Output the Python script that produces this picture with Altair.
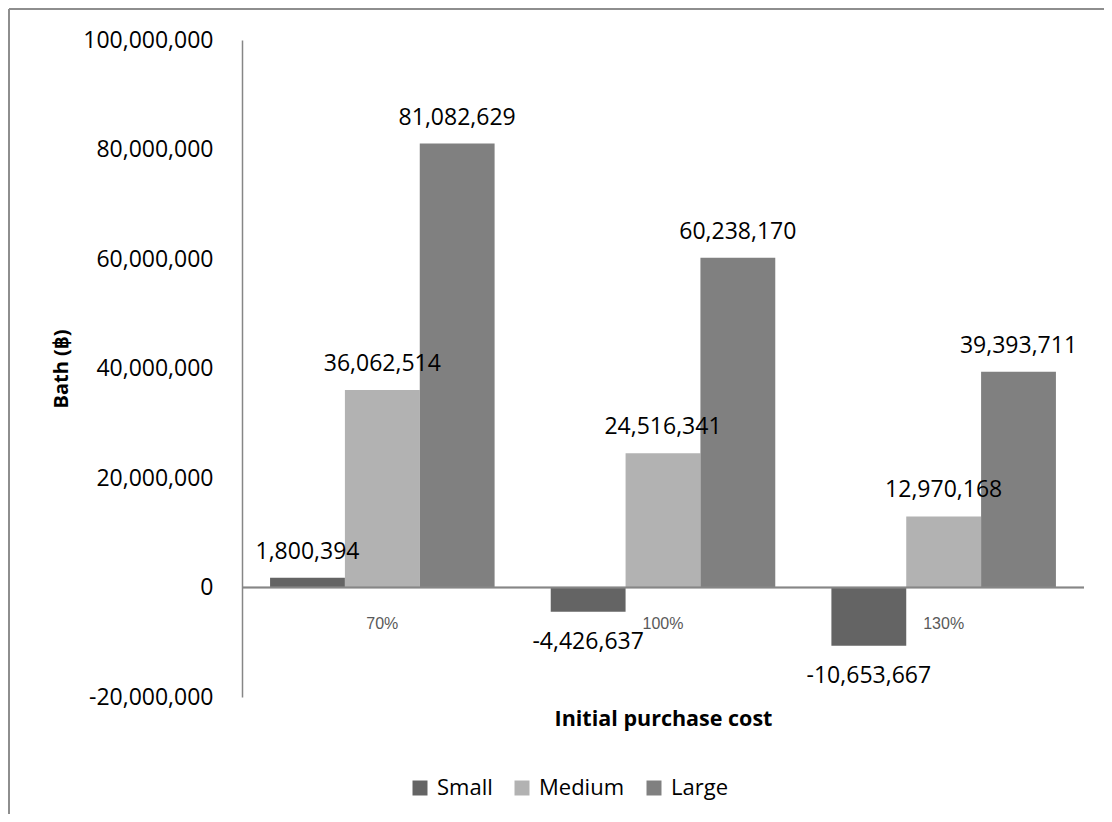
import altair as alt
import pandas as pd

categories = ["70%", "100%", "130%"]
sizes = ["Small", "Medium", "Large"]
small = [1800394, -4426637, -10653667]
medium = [36062514, 24516341, 12970168]
large = [81082629, 60238170, 39393711]
colors = ["#646464", "#b2b2b2", "#808080"]

rows = []
for i, c in enumerate(categories):
    for s, vals in zip(sizes, [small, medium, large]):
        v = vals[i]
        rows.append({"cost": c, "size": s, "value": v, "label": f"{v:,}"})
df = pd.DataFrame(rows)
cat_df = pd.DataFrame({"cost": categories})

FONT = "Open Sans"
W, H = 842, 657

xscale = alt.Scale(domain=categories, paddingInner=0.2, paddingOuter=0.1)
yscale = alt.Scale(domain=[-20000000, 100000000], nice=False, zero=False)

base = alt.Chart(df)

x_enc = alt.X("cost:N", scale=xscale, sort=categories,
              axis=alt.Axis(title="Initial purchase cost", labels=False, ticks=False,
                            domain=False, grid=False, titleFont=FONT, titleFontSize=21.5,
                            titleFontWeight="bold", titleColor="#000000",
                            titleY=22, titleBaseline="middle"))
y_enc = alt.Y("value:Q", scale=yscale,
              axis=alt.Axis(title="Bath (฿)", values=[-20000000, 0, 20000000, 40000000,
                                                      60000000, 80000000, 100000000],
                            labelExpr="datum.value < 0 ? '-' + format(-datum.value, ',') : format(datum.value, ',')",
                            ticks=False, grid=False, domainColor="#868686", domainWidth=1.5,
                            labelFont=FONT, labelFontSize=23, labelColor="#000000",
                            labelPadding=29, titleFont=FONT, titleFontSize=20,
                            titleFontWeight="bold", titleColor="#000000",
                            titleX=-181, titleY=H / 2, titleAngle=270,
                            titleBaseline="middle", titleAlign="center"))

xoff = alt.XOffset("size:N", sort=sizes, scale=alt.Scale(domain=sizes, paddingInner=0, paddingOuter=0))

bars = base.mark_bar().encode(
    x=x_enc,
    xOffset=xoff,
    y=y_enc,
    y2=alt.datum(0),
    color=alt.Color("size:N", sort=sizes,
                    scale=alt.Scale(domain=sizes, range=colors),
                    legend=alt.Legend(title=None, orient="none", direction="horizontal",
                                      legendX=167, legendY=737, symbolType="square",
                                      symbolSize=225, symbolStrokeWidth=0,
                                      labelFont=FONT, labelFontSize=22, labelColor="#000000",
                                      labelOffset=6, columnPadding=18)),
)

pos_text = base.transform_filter("datum.value >= 0").mark_text(
    font=FONT, fontSize=23, color="#000000", baseline="alphabetic", dy=-19
).encode(x=alt.X("cost:N", sort=categories), xOffset=xoff, y="value:Q", text="label:N")

neg_text = base.transform_filter("datum.value < 0").mark_text(
    font=FONT, fontSize=23, color="#000000", baseline="alphabetic", dy=37
).encode(x=alt.X("cost:N", sort=categories), xOffset=xoff, y="value:Q", text="label:N")

zero = alt.Chart(cat_df).mark_rule(color="#868686", strokeWidth=1.5).encode(y=alt.datum(0))

cat_text = alt.Chart(cat_df).mark_text(
    font="Liberation Sans", fontSize=16, color="#595959", baseline="alphabetic", dy=41
).encode(x=alt.X("cost:N", sort=categories), y=alt.datum(0), text="cost:N")

border_left = alt.Chart(cat_df).mark_rule(color="#8c8c8c", strokeWidth=1.5).encode(
    x=alt.value(-233), y=alt.value(-31), y2=alt.value(800))
border_top = alt.Chart(cat_df).mark_rule(color="#8c8c8c", strokeWidth=1.5).encode(
    x=alt.value(-233), x2=alt.value(900), y=alt.value(-31))

chart = alt.layer(bars, zero, pos_text, neg_text, cat_text, border_left, border_top).properties(
    width=W, height=H,
    autosize=alt.AutoSizeParams(type="none"),
    padding={"left": 234, "top": 32, "right": 20, "bottom": 117},
).configure(background="white", view=alt.ViewConfig(stroke=None))

chart.save("out.html", embed_options={"renderer": "svg", "actions": False})
